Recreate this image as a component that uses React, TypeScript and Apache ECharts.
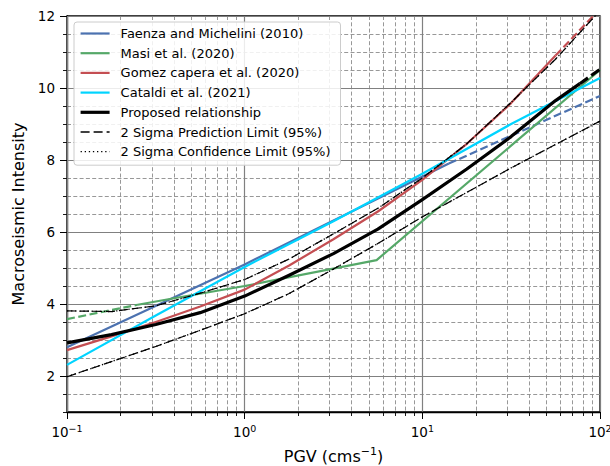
import React, { useEffect, useRef } from 'react';
import * as echarts from 'echarts';

const FONT = 'DejaVu Sans';

// ---- data (PGV in cm/s, macroseismic intensity) ----
const faenzaPGV = [0.1, 1, 14.1];
const faenzaMMI = [2.8, 5.1, 7.9];
const faenzaExtPGV = [14.1, 100];
const faenzaExtMMI = [7.9, 9.78];

const masiPGV = [0.25, 0.4, 1, 5.53, 100];
const masiMMI = [3.98, 4.16, 4.5, 5.22, 10.5];
const masiExtPGV = [0.1, 0.25];
const masiExtMMI = [3.58, 3.98];

const gomezPGV = [0.1, 0.178, 0.316, 0.562, 1, 1.78, 3.16, 5.62, 10, 17.8, 31.6, 56.2];
const gomezMMI = [2.72, 3.1, 3.5, 3.93, 4.4, 5.07, 5.8, 6.57, 7.45, 8.45, 9.58, 10.9];
const gomezExtPGV = [56.2, 75, 100];
const gomezExtMMI = [10.9, 11.55, 12.2];

const cataldiPGV = [0.1, 0.316, 1, 3.16, 10, 31.6, 100];
const cataldiMMI = [2.31, 3.68, 5.03, 6.3, 7.62, 9.0, 10.28];

const proposedPGV = [0.1, 0.178, 0.316, 0.562, 1, 1.78, 3.16, 5.62, 10, 17.8, 31.6, 56.2, 77];
const proposedMMI = [2.92, 3.15, 3.43, 3.76, 4.22, 4.8, 5.4, 6.08, 6.9, 7.75, 8.65, 9.65, 10.12];
const proposedExtPGV = [77, 100];
const proposedExtMMI = [10.12, 10.52];

const predUpperPGV = [0.1, 0.178, 0.316, 0.562, 1, 1.78, 3.16, 5.62, 10, 17.8, 31.6, 56.2, 100];
const predUpperMMI = [3.81, 3.79, 3.95, 4.3, 4.68, 5.25, 5.95, 6.66, 7.5, 8.45, 9.6, 10.8, 12.15];
const predLowerPGV = [0.1, 0.178, 0.316, 0.562, 1, 1.78, 3.16, 5.62, 10, 17.8, 31.6, 56.2, 100];
const predLowerMMI = [1.98, 2.4, 2.82, 3.27, 3.73, 4.29, 4.97, 5.68, 6.42, 7.1, 7.78, 8.43, 9.08];

const confUpperPGV = [0.1, 0.178, 0.316, 0.562, 1, 1.78, 3.16, 5.62, 10, 17.8, 31.6, 56.2, 100];
const confUpperMMI = [3.81, 3.79, 3.95, 4.3, 4.68, 5.25, 5.95, 6.66, 7.5, 8.45, 9.6, 10.8, 12.15];
const confLowerPGV = [0.1, 0.178, 0.316, 0.562, 1, 1.78, 3.16, 5.62, 10, 17.8, 31.6, 56.2, 100];
const confLowerMMI = [1.98, 2.4, 2.82, 3.27, 3.73, 4.29, 4.97, 5.68, 6.42, 7.1, 7.78, 8.43, 9.08];

const yMajorTicks = [2, 4, 6, 8, 10, 12];
const xMinorTicks = [0.2, 0.3, 0.4, 0.5, 0.6, 0.7, 0.8, 0.9, 2, 3, 4, 5, 6, 7, 8, 9, 20, 30, 40, 50, 60, 70, 80, 90];

const NAMES = {
  faenza: 'Faenza and Michelini (2010)',
  masi: 'Masi et al. (2020)',
  gomez: 'Gomez capera et al. (2020)',
  cataldi: 'Cataldi et al. (2021)',
  proposed: 'Proposed relationship',
  pred: '2 Sigma Prediction Limit (95%)',
  conf: '2 Sigma Confidence Limit (95%)',
};

const COLORS = {
  blue: '#4c72b0',
  green: '#55a868',
  red: '#c44e52',
  cyan: '#00d4ff',
  black: '#000000',
};

const pairs = (xs: number[], ys: number[]) => xs.map((x, i) => [x, ys[i]]);

const line = (name: string, xs: number[], ys: number[], color: string, width: number, type: any, z = 2) => ({
  type: 'line',
  name,
  data: pairs(xs, ys),
  xAxisIndex: 0,
  yAxisIndex: 0,
  symbol: 'none',
  showSymbol: false,
  smooth: false,
  silent: true,
  z,
  lineStyle: { color, width, type, cap: 'butt', join: 'round' },
  itemStyle: { color },
});

const DASH = [8, 3.5];
const PRED_DASH = [9, 4];
const DOT = [1.3, 2.8];

export default function App() {
  const ref = useRef<HTMLDivElement>(null);

  useEffect(() => {
    if (!ref.current) return;
    const chart = echarts.init(ref.current, undefined, { renderer: 'svg' });
    const option: any = {
      animation: false,
      grid: {
        left: 67,
        right: 10,
        top: 16,
        bottom: 54,
        outerBoundsMode: 'none',
        containLabel: false,
        show: true,
        borderColor: '#000',
        borderWidth: 1.3,
        backgroundColor: 'transparent',
      },
      legend: {
        orient: 'vertical',
        left: 74,
        top: 22,
        padding: [5, 10, 7, 5],
        itemWidth: 29,
        itemHeight: 14,
        itemGap: 6.7,
        selectedMode: false,
        backgroundColor: 'rgba(255,255,255,0.85)',
        borderColor: '#cccccc',
        borderWidth: 1,
        borderRadius: 3,
        itemStyle: { opacity: 0 },
        textStyle: { fontFamily: FONT, fontSize: 13, color: '#000', padding: [0, 0, 0, 6] },
        data: [
          { name: NAMES.faenza, lineStyle: { width: 2.2 } },
          { name: NAMES.masi, lineStyle: { width: 2.2 } },
          { name: NAMES.gomez, lineStyle: { width: 2.2 } },
          { name: NAMES.cataldi, lineStyle: { width: 2.2 } },
          { name: NAMES.proposed, lineStyle: { width: 3.2 } },
          { name: NAMES.pred, lineStyle: { width: 1.3 } },
          { name: NAMES.conf, lineStyle: { width: 1.3 } },
        ],
      },
      xAxis: [
        {
          type: 'log',
          logBase: 10,
          min: 0.1,
          max: 100,
          position: 'bottom',
          name: 'PGV (cms{sup|\u22121})',
          nameLocation: 'middle',
          nameGap: 33,
          nameTextStyle: {
            fontFamily: FONT,
            fontSize: 16,
            color: '#000',
            lineHeight: 22,
            rich: { sup: { fontFamily: FONT, fontSize: 11, lineHeight: 15, verticalAlign: 'top', color: '#000' } },
          },
          axisLine: { show: true, onZero: false, lineStyle: { color: '#000', width: 1.3 } },
          axisTick: { show: true, length: 7, lineStyle: { color: '#000', width: 1 } },
          axisLabel: {
            margin: 11,
            fontFamily: FONT,
            fontSize: 13.5,
            color: '#000',
            lineHeight: 18,
            formatter: (v: number) => {
              const e = Math.round(Math.log10(v));
              return '10{sup|' + (e < 0 ? '\u2212' + Math.abs(e) : String(e)) + '}';
            },
            rich: { sup: { fontFamily: FONT, fontSize: 9.5, lineHeight: 9.4, verticalAlign: 'top', color: '#000' } },
          },
          splitLine: { show: true, lineStyle: { color: '#808080', width: 1.2, type: 'solid' } },
          z: 1,
        },
        {
          type: 'log',
          logBase: 10,
          min: 0.1,
          max: 100,
          position: 'bottom',
          axisLine: { show: false, onZero: false },
          axisTick: { show: true, length: 4, customValues: xMinorTicks, lineStyle: { color: '#000', width: 0.9 } },
          axisLabel: { show: false },
          splitLine: { show: true, lineStyle: { color: '#8c8c8c', width: 0.9, type: [4, 2.3] } },
          z: 0,
        },
      ],
      yAxis: [
        {
          type: 'value',
          min: 1,
          max: 12,
          interval: 0.5,
          position: 'left',
          axisLine: { show: true, onZero: false, lineStyle: { color: '#000', width: 1.3 } },
          axisTick: { show: true, length: 4, lineStyle: { color: '#000', width: 0.9 } },
          axisLabel: { show: false },
          splitLine: { show: true, lineStyle: { color: '#8c8c8c', width: 0.9, type: [4, 2.3] } },
          z: 0,
        },
        {
          type: 'value',
          min: 1,
          max: 12,
          position: 'left',
          name: 'Macroseismic Intensity',
          nameLocation: 'middle',
          nameGap: 38,
          nameTextStyle: { fontFamily: FONT, fontSize: 16, color: '#000' },
          axisLine: { show: false, onZero: false },
          axisTick: { show: true, length: 7, customValues: yMajorTicks, lineStyle: { color: '#000', width: 1 } },
          axisLabel: { show: true, margin: 12, customValues: yMajorTicks, fontFamily: FONT, fontSize: 13.5, color: '#000' },
          splitLine: { show: true, lineStyle: { color: '#808080', width: 1.2, type: 'solid' } },
          z: 1,
        },
      ],
      series: [
        line(NAMES.faenza, faenzaPGV, faenzaMMI, COLORS.blue, 2.2, 'solid'),
        line('faenza-ext', faenzaExtPGV, faenzaExtMMI, COLORS.blue, 2.2, DASH),
        line(NAMES.masi, masiPGV, masiMMI, COLORS.green, 2.2, 'solid'),
        line('masi-ext', masiExtPGV, masiExtMMI, COLORS.green, 2.2, DASH),
        line(NAMES.gomez, gomezPGV, gomezMMI, COLORS.red, 2.2, 'solid'),
        line('gomez-ext', gomezExtPGV, gomezExtMMI, COLORS.red, 2.2, DASH),
        line(NAMES.cataldi, cataldiPGV, cataldiMMI, COLORS.cyan, 2.2, 'solid'),
        line(NAMES.proposed, proposedPGV, proposedMMI, COLORS.black, 3.2, 'solid', 3),
        line('proposed-ext', proposedExtPGV, proposedExtMMI, COLORS.black, 3.2, [10, 4], 3),
        line(NAMES.pred, predUpperPGV, predUpperMMI, COLORS.black, 1.2, PRED_DASH, 4),
        line(NAMES.pred, predLowerPGV, predLowerMMI, COLORS.black, 1.2, PRED_DASH, 4),
        line(NAMES.conf, confUpperPGV, confUpperMMI, COLORS.black, 1.3, DOT, 4),
        line(NAMES.conf, confLowerPGV, confLowerMMI, COLORS.black, 1.3, DOT, 4),
      ],
    };
    chart.setOption(option);
    return () => chart.dispose();
  }, []);

  return <div ref={ref} style={{ position: 'fixed', left: 0, top: 0, width: 610, height: 466, background: '#fff' }} />;
}
